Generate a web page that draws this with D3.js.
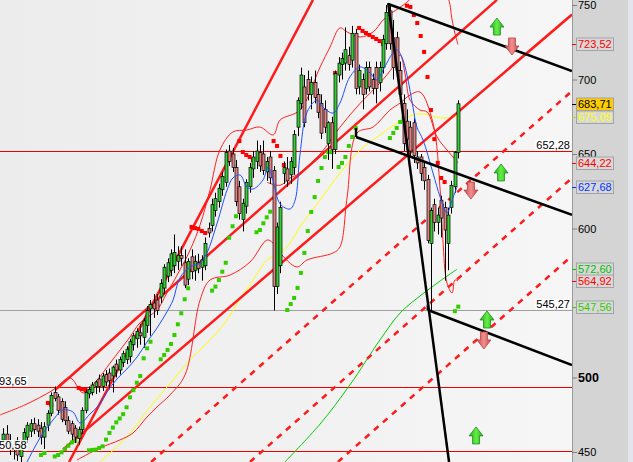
<!DOCTYPE html>
<html><head><meta charset="utf-8">
<script src="https://cdn.jsdelivr.net/npm/d3@7"></script>
<style>body{margin:0;background:#fff}svg{display:block}text{font-family:"Liberation Sans",Arial,sans-serif}</style>
</head><body><svg id="c" width="633" height="462"></svg>
<script>
// ---------- DATA ----------
const candleOpen = [458,462,457,452,455,447,455,460,464,469, 468,466,460,468,476,490,487,484,480,471, 469,466,459,465,478,489,490,494,499,494,
 502,503,501,509,505,510,512,514,522,526, 530,527,535,546,550,552,554,560,568,572, 575,578,582,577,566,581,572,577,574,575,
 600,602,612,618,626,631,652,650,641,628, 606,615,628,640,645,651,650,638,648,639, 561,575,637,640,636,641,668,684,695,700,
 690,698,690,684,680,657,671,653,703,710, 711,716,713,731,695,700,694,708,700,708, 698,708,724,746,728,728,706,684,672,668,
 671,648,648,641,633,590,616,604,619,614, 590,614,628,651];
const candleHigh = [466,468,462,458,460,458,466,470,472,473, 472,470,470,478,490,494,489,486,484,474, 471,468,467,480,492,494,497,498,502,503,
 505,506,508,512,514,518,521,526,530,533, 536,540,548,552,556,556,566,576,580,586, 596,588,588,586,580,586,582,583,582,594,
 604,620,624,630,638,653,656,654,646,632, 620,633,644,652,659,656,659,648,652,642, 604,618,645,648,648,666,688,708,703,706,
 702,706,694,690,686,672,675,706,715,718, 735,722,736,734,710,704,712,712,704,712, 712,730,750,750,740,732,712,690,680,672,
 674,652,650,644,636,614,620,614,622,618, 614,632,652,686];
const candleLow = [452,455,448,445,444,440,452,456,460,462, 460,455,452,464,474,484,475,470,468,462, 458,456,455,462,476,486,488,489,490,491,
 494,492,490,500,502,507,509,510,518,520, 522,520,530,528,540,542,550,556,564,568, 570,572,575,560,562,566,565,570,565,572,
 594,598,608,614,622,628,642,638,615,606, 598,610,624,634,640,638,636,632,630,545, 556,570,630,628,630,636,662,680,668,686,
 680,684,674,660,664,646,640,650,698,700, 706,706,708,690,690,680,690,692,690,684, 692,704,720,720,700,700,686,652,654,648,
 644,640,632,626,590,545,598,596,594,565, 572,610,624,647];
const candleClose = [462,457,452,455,448,455,463,468,469,465, 464,460,467,476,488,486,478,472,471,464, 462,460,465,478,490,492,495,497,494,501,
 497,498,507,505,512,516,519,524,528,531, 528,538,545,549,546,545,563,574,577,583, 584,582,580,562,578,571,578,573,579,590,
 597,616,620,627,635,651,645,641,618,610, 617,631,641,648,652,642,639,645,634,561, 601,614,641,632,645,663,686,703,671,690,
 698,688,678,664,668,671,653,704,711,714, 720,710,731,694,706,690,708,695,694,694, 708,727,745,724,708,706,690,657,660,652,
 649,644,637,632,592,612,604,609,607,599, 609,629,651,683.71];

// moving averages / bands: [bar index, value]
const blueMA = [[6.9,443.3],[10.7,459.4],[14.5,471.5],[17.4,478.2],[20.3,476.9],[22.4,469.5],[25.3,475.5],[28.2,482.2],[30.3,490.3],[33.2,499],
 [36.1,505.7],[39.1,513.8],[42,523.8],[44.9,533.2],[47.8,544],[49.6,552],[51.6,566.8],[54.6,574.2],[57.5,576.9],[59.5,583.6],[62.5,603.7],
 [65.4,625.8],[67.1,633.9],[69.2,635.9],[71.2,627.9],[73,626.5],[75.9,632.6],[77.4,641.3],[78.8,632.6],[80.9,616.5],[83.8,613.1],[85.3,619.1],
 [86.7,649.3],[88.8,678.2],[91.7,686.2],[93.4,681.5],[96.4,677.5],[98.4,684.2],[101.3,701.7],[104.3,708.4],[107.2,704.4],[109.2,699.7],
 [111,706.4],[113.9,717.8],[115.1,719.8],[116.5,715.1],[118,703],[119.8,680.9],[120.9,668.1],[122.7,659.4],[125.6,637.3],[127.7,621.1],
 [129.7,610.4],[131.2,619.1],[132.6,627.68]];
const yellowMA = [[28.2,443.3],[36.1,460.1],[42.9,480.2],[49.6,498.3],[54.6,511.8],[60.4,525.2],[65.4,538.6],[69.2,552.7],[73,565.4],[77.1,578.9],
 [80.9,583.6],[83.8,590.3],[86.7,601],[92.6,619.1],[98.4,637.3],[104.3,652.7],[110.1,662.8],[115.1,670.8],[119.8,676.2],[123.3,676.8],[127.7,674.2],[132.6,675.09]];
const greenMA = [[82.3,443.3],[92.6,468.8],[101.3,495],[110.1,525.2],[116,543.3],[121.8,554.7],[127.7,564.8],[132.6,572.6]];
const upperBand = [[-1,474.9],[6.3,481.6],[14.5,491.6],[19.5,499.7],[23.3,489.6],[27.4,498.3],[31.2,509.7],[37,527.2],[39.9,536.6],[44.9,545.3],
 [47.8,556.7],[50.8,568.8],[54.6,585.6],[57.5,602.4],[60.4,625.8],[63.3,652.7],[67.1,664.8],[71.2,666.1],[75,668.1],[78.9,662.8],[80.9,672.8],
 [86.7,679.5],[92.6,708.4],[95.5,721.8],[98.4,734.6],[100.5,731.9],[104.3,728.5],[108.1,731.9],[111,739.9],[113.9,745.3],[117.4,750.7],
 [121.2,758.7],[125.3,763.4],[129.7,756],[131.2,739.9],[132,731.2],[132.9,723.52]];
const lowerBand = [[21.5,444.6],[28.2,452.7],[34.1,458.1],[37.9,462.8],[42,473.5],[44.9,480.2],[48.7,488.3],[53.1,501.7],[57.5,552],[60.4,565.4],
 [66.3,568.8],[72.1,577.5],[77.1,592.3],[78.8,590.3],[80.9,583.6],[85.8,574.2],[88.8,578.9],[96.4,583.6],[98.4,587.6],[100.5,621.1],[103.4,664.1],
 [108.1,668.1],[113,679.5],[116,684.2],[118.9,689.6],[121.8,691.6],[125.6,670.8],[127.7,625.8],[128.5,592.3],[129.7,563.4],[131.2,556.7],[132,565.4],[132.9,564.92]];
const innerBand = [[77.1,631],[80.9,629],[83.8,633.9],[85.8,636],[92.6,650],[98.4,668],[104.3,684],[110.1,697.7],[113.9,708.4],[116,716.4],
 [117.5,703],[118.9,686.2],[121.8,679.5],[123.9,678.2],[126.8,661.4],[129.7,652.7],[132.9,644.22]];

const sarRed = [[13,482.9],[14,481.6],[22,493],[23,492.3],[24,491.6],[44,548],[45,548],[55,601],[56,600.3],[57,599.7],[58,598.3],[59,597],
 [69,658.7],[70,651.3],[71,649.3],[72,648],[73,646],[79,658.7],[80,655.4],[81,648.7],[82,642.6],[97,704.4],
 [104,734.6],[105,732.6],[106,731.2],[107,729.9],[108,728.5],[109,727.2],[110,725.8],[111,723.8],
 [118,749.5],[119,748.7],[120,743.3],[121,737.9],[122,729.2],[123,718.5],[124,701.7],[125,679.5],[126,660],[127,644],[128,633.9],[129,631.2]];
const sarGreen = [[11,448],[12,449.3],[15,447],[16,448],[17,449.8],[18,452],[19,454.2],[20,456.4],[21,457.5],
 [25,451.1],[26,451.4],[27,451.6],[28,452.7],[29,453.8],[30,458.3],[31,462.8],[32,466.4],[33,469.9],[34,472.5],[35,475.4],[36,480],[37,486.7],
 [38,491.5],[39,496.5],[40,501],[41,512.9],[42,519.6],[43,524],[46,512.2],[47,515.1],[48,518.5],[49,522.5],[50,528.5],[51,535.7],[52,543.1],
 [53,552.5],[54,559.9],[61,558.3],[62,561],[63,565.4],[64,571],[65,577],[66,593.8],[67,601.5],[68,608.2],[74,597.5],[75,599],[76,603.5],
 [77,607.5],[78,611.3],[83,545.3],[84,549.3],[85,553.4],[86,560.1],[87,570.2],[88,583.6],[89,598.3],[90,611.1],[91,621.1],[92,631.9],
 [93,640.6],[94,648],[95,651.3],[96,651.3],[98,641.3],[99,644],[100,648],[101,655.4],[102,661.4],[103,667.5],
 [113,660.7],[114,664.1],[115,667.5],[116,671.5],[117,674.2],[132,544.5],[133,547.56]];

// trend lines: [[idx,val],[idx,val]]
const redSolidLines = [ [[15.1,491.6],[144.3,753.4]], [[17.4,451.6],[166.25,743.6]], [[19.2,443.3],[90.5,753.4]] ];
const redDashedLines = [ [[43.2,443.3],[166.25,692.3]], [[72.1,443.3],[166.25,633.9]], [[97.8,443.3],[166.25,581.6]] ];
const blackLines = [ [[112.5,751.3],[130.3,443.3]], [[112.5,750.7],[166.25,705.7]], [[103.1,667.4],[103.1,661.4]], [[103.1,661.4],[166.25,609.1]], [[124.1,549],[124.1,545.3]], [[124.1,545.3],[166.25,508.4]] ];

const hLevels = [652.28, 545.27, 493.65, 450.58];
const hLevelColors = ["#ee0000","#a0a0a0","#ee0000","#ee0000"];
const hLevelLabels = ["652,28","545,27","493,65","450,58"];
const hLevelSide = ["right","right","left","left"];

const axisTicks = [450, 500, 600, 650, 700, 750];
const priceLabels = [723.52, 683.71, 675.09, 644.22, 627.68, 572.60, 564.92, 547.56];
const priceLabelText = ["723,52","683,71","675,09","644,22","627,68","572,60","564,92","547,56"];
const priceLabelColor = ["#ff0000","#000000","#ffff00","#ff0000","#0033ff","#00c000","#ff0000","#33cc00"];
const priceLabelFill = ["#d8d8d8","#ffcc00","#d8d8d8","#d8d8d8","#d8d8d8","#d8d8d8","#d8d8d8","#d8d8d8"];

const upArrows = [[144.3,735.2],[145.5,637.3],[141.4,538.6],[138.2,460.8]];
const downArrows = [[148.7,722.5],[136.7,625.8],[140.5,525.2]];

// ---------- DRAW ----------
const W = 633, H = 462, PW = 572;
const svg = d3.select("#c");
const x = d3.scaleLinear().domain([-1, 166.25]).range([0, PW]);
const y = d3.scaleLinear().domain([450, 750]).range([452, 5]);

const defs = svg.append("defs");
const g1 = defs.append("linearGradient").attr("id","bg").attr("x1",0).attr("x2",1).attr("y1",0).attr("y2",0);
g1.append("stop").attr("offset","0").attr("stop-color","#ececec");
g1.append("stop").attr("offset","1").attr("stop-color","#f6f6f6");
defs.append("clipPath").attr("id","clip").append("rect").attr("width",PW).attr("height",H);

svg.append("rect").attr("width",PW).attr("height",H).attr("fill","url(#bg)");
svg.append("rect").attr("x",PW).attr("width",W-PW).attr("height",H).attr("fill","#d4d4d4");
svg.append("rect").attr("x",628).attr("width",5).attr("height",H).attr("fill","#e2e6ec");
svg.append("line").attr("x1",PW+0.5).attr("x2",PW+0.5).attr("y1",0).attr("y2",H).attr("stroke","#9a9a9a");

const plot = svg.append("g").attr("clip-path","url(#clip)");

hLevels.forEach((v,i)=>{
  plot.append("line").attr("x1",0).attr("x2",PW).attr("y1",Math.round(y(v))+0.5).attr("y2",Math.round(y(v))+0.5)
    .attr("stroke",hLevelColors[i]).attr("stroke-width",1);
});

const line = d3.line().x(d=>x(d[0])).y(d=>y(d[1]));
const curve = d3.line().x(d=>x(d[0])).y(d=>y(d[1])).curve(d3.curveCatmullRom.alpha(0.5));

plot.append("path").attr("d",curve(greenMA)).attr("fill","none").attr("stroke","#00cc00").attr("stroke-width",1);
plot.append("path").attr("d",curve(yellowMA)).attr("fill","none").attr("stroke","#ffff00").attr("stroke-width",1);
[upperBand, lowerBand, innerBand].forEach(b=>{
  plot.append("path").attr("d",curve(b)).attr("fill","none").attr("stroke","#ff2020").attr("stroke-width",1);
});

redDashedLines.forEach(l=>{
  plot.append("path").attr("d",line(l)).attr("stroke","#ff1a1a").attr("stroke-width",2.5).attr("stroke-dasharray","6,6").attr("fill","none");
});
redSolidLines.forEach(l=>{
  plot.append("path").attr("d",line(l)).attr("stroke","#ff1a1a").attr("stroke-width",2.5).attr("fill","none");
});

plot.selectAll(".sr").data(sarRed).enter().append("rect").attr("x",d=>x(d[0])-2).attr("y",d=>y(d[1])-2)
  .attr("width",4).attr("height",4).attr("fill","#ff0000");
plot.selectAll(".sg").data(sarGreen).enter().append("rect").attr("x",d=>x(d[0])-2).attr("y",d=>y(d[1])-2)
  .attr("width",4).attr("height",4).attr("fill","#33cc00");

const idx = d3.range(candleClose.length);
plot.selectAll(".wick").data(idx).enter().append("line")
  .attr("x1",i=>Math.round(x(i))+0.5).attr("x2",i=>Math.round(x(i))+0.5)
  .attr("y1",i=>y(candleHigh[i])).attr("y2",i=>y(candleLow[i])).attr("stroke","#000").attr("stroke-width",1);
plot.selectAll(".body").data(idx).enter().append("rect")
  .attr("x",i=>Math.round(x(i))-1)
  .attr("y",i=>y(Math.max(candleOpen[i],candleClose[i])))
  .attr("width",3)
  .attr("height",i=>Math.max(1,Math.abs(y(candleOpen[i])-y(candleClose[i]))))
  .attr("fill",i=>candleClose[i]>=candleOpen[i]?"#33cc33":"#e08080")
  .attr("stroke","#000").attr("stroke-width",0.7);

plot.append("path").attr("d",curve(blueMA)).attr("fill","none").attr("stroke","#1e50ff").attr("stroke-width",1);

blackLines.forEach(l=>{
  plot.append("path").attr("d",line(l)).attr("stroke","#000").attr("stroke-width",2.5).attr("fill","none");
});

function arrowPath(cx, cy, up){
  const s = up?-1:1;
  return `M${cx-3.5},${cy-s*8} L${cx+3.5},${cy-s*8} L${cx+3.5},${cy} L${cx+7},${cy} L${cx},${cy+s*9} L${cx-7},${cy} L${cx-3.5},${cy} Z`;
}
const ga = defs.append("linearGradient").attr("id","ga").attr("x1",0).attr("x2",1);
ga.append("stop").attr("offset","0").attr("stop-color","#22aa22");
ga.append("stop").attr("offset","0.5").attr("stop-color","#66ee44");
ga.append("stop").attr("offset","1").attr("stop-color","#22aa22");
const ra = defs.append("linearGradient").attr("id","ra").attr("x1",0).attr("x2",1);
ra.append("stop").attr("offset","0").attr("stop-color","#cc4444");
ra.append("stop").attr("offset","0.5").attr("stop-color","#f09090");
ra.append("stop").attr("offset","1").attr("stop-color","#cc4444");
upArrows.forEach(a=>{
  plot.append("path").attr("d",arrowPath(x(a[0]),y(a[1]),true)).attr("fill","url(#ga)").attr("stroke","#1c8c1c").attr("stroke-width",0.8);
});
downArrows.forEach(a=>{
  plot.append("path").attr("d",arrowPath(x(a[0]),y(a[1]),false)).attr("fill","url(#ra)").attr("stroke","#b04848").attr("stroke-width",0.8);
});

hLevels.forEach((v,i)=>{
  const yy = Math.round(y(v));
  const t = plot.append("text").attr("y",yy-2).attr("font-size",11).attr("fill","#000").text(hLevelLabels[i]);
  if(hLevelSide[i]==="right"){ t.attr("x",PW-2).attr("text-anchor","end"); }
  else { t.attr("x",-7).attr("text-anchor","start"); }
  const bb = t.node().getBBox();
  plot.insert("rect", () => t.node()).attr("x",bb.x-1).attr("y",bb.y+1).attr("width",bb.width+2).attr("height",bb.height-2).attr("fill","#ffffff").attr("opacity",0.9);
});

const axis = d3.axisRight(y).tickValues(axisTicks).tickSize(5).tickPadding(1).tickFormat(d3.format("d"));
const ag = svg.append("g").attr("transform",`translate(${PW},0)`).call(axis);
ag.select(".domain").remove();
ag.selectAll(".tick line").attr("stroke","#808080");
ag.selectAll(".tick text").attr("fill","#000").attr("font-family","Liberation Sans, Arial, sans-serif")
  .attr("font-weight",d=>d===500?"bold":"normal").attr("font-size",d=>d===500?12.5:11);

priceLabels.forEach((v,i)=>{
  const yy = Math.round(y(v));
  svg.append("line").attr("x1",PW).attr("x2",PW+5).attr("y1",yy+0.5).attr("y2",yy+0.5).attr("stroke",priceLabelColor[i]==="#ffff00"?"#cccc00":priceLabelColor[i]);
  svg.append("rect").attr("x",PW+4.5).attr("y",yy-6).attr("width",37).attr("height",12.5)
    .attr("fill",priceLabelFill[i]).attr("stroke","#a0a4a8");
  svg.append("text").attr("x",PW+6).attr("y",yy+4).attr("font-size",11).attr("fill",priceLabelColor[i]).text(priceLabelText[i]);
});
</script></body></html>
